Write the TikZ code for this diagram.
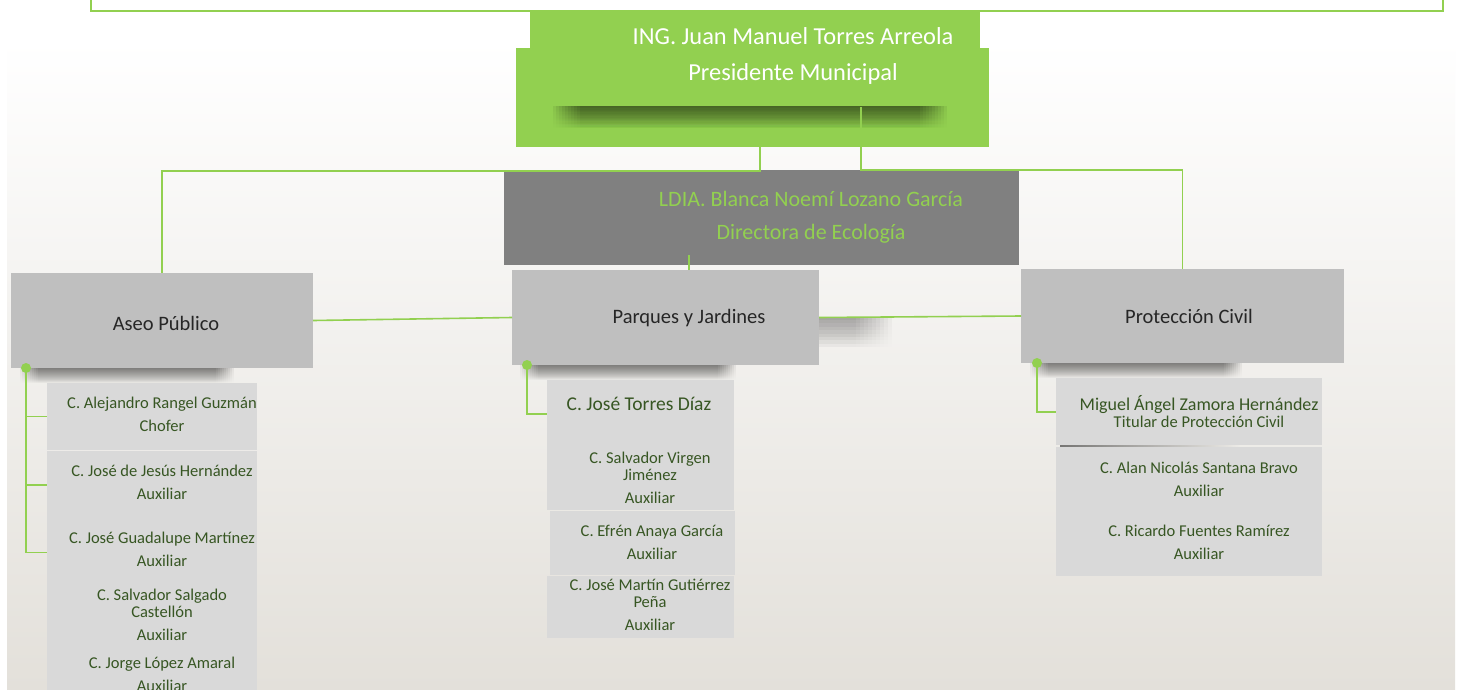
\documentclass[tikz,border=0pt]{standalone}
\usepackage{fontspec}
\setmainfont{Carlito}
\usetikzlibrary{fadings}
\definecolor{verde}{HTML}{92D050}
\definecolor{verdeosc}{HTML}{375623}
\definecolor{grisdir}{HTML}{808080}
\definecolor{gristit}{HTML}{BFBFBF}
\definecolor{grissub}{HTML}{D9D9D9}
\definecolor{fondo}{HTML}{E3E0DA}

\begin{document}
\begin{tikzpicture}[x=1pt,y=-1pt,
    caja/.style={inner sep=0pt,outer sep=0pt},
    linea/.style={draw=verde,line width=1.6pt},
    titulo/.style={text=black!85,font=\fontsize{20.5}{24}\selectfont,inner sep=0pt},
    sub/.style={text=verdeosc,font=\fontsize{16.5}{17}\selectfont,align=center,inner sep=0pt},
    sombra/.style={fill=black,opacity=.06,path fading=south}]
\useasboundingbox (0,0) rectangle (1460,689);
% fondo
\fill[white] (0,0) rectangle (1460,689);
\shade[top color=white,bottom color=fondo] (7,40) rectangle (1455,689);
\draw[verde,line width=1.6pt] (91,-3) |- (1443,11) -- (1443,-3);

% sombras
\foreach \i in {0,...,9} {
  \fill[sombra] (20+2*\i,368) rectangle (234-2*\i,383);
  \fill[sombra] (520+2*\i,365) rectangle (736-2*\i,380);
  \fill[sombra] (1030+2*\i,363) rectangle (1242-2*\i,378);
  \fill[sombra,opacity=.035] (819,318) rectangle (892-4*\i,348);
}

% cajas
\node[caja,fill=verde,minimum width=450,minimum height=38] (presTab) at (755,29) {};
\node[caja,fill=verde,minimum width=473,minimum height=99] (pres) at (752.5,97.5) {};
\foreach \i in {0,...,9}
  \fill[sombra,opacity=.065] (553+3*\i,106) rectangle (947-3*\i,128);
\node[caja,fill=grisdir,minimum width=515,minimum height=95] (dir) at (761.5,217.5) {};
\node[caja,fill=gristit,minimum width=302,minimum height=95] (aseo) at (162,320.5) {};
\node[caja,fill=gristit,minimum width=307,minimum height=95] (parq) at (665.5,317.5) {};
\node[caja,fill=gristit,minimum width=323,minimum height=94] (prot) at (1182.5,316) {};

\node[caja,fill=grissub,minimum width=210,minimum height=67] (aseoS1) at (152,416.5) {};
\node[caja,fill=grissub,minimum width=210,minimum height=249] (aseoS2) at (152,575.5) {};
\node[caja,fill=grissub,minimum width=187,minimum height=130] (parqS1) at (640.5,445) {};
\node[caja,fill=grissub,minimum width=185,minimum height=64] (parqS2) at (642.5,543) {};
\node[caja,fill=grissub,minimum width=187,minimum height=62] (parqS3) at (640.5,607) {};
\node[caja,fill=grissub,minimum width=266,minimum height=67] (protS1) at (1189,411.5) {};
\node[caja,fill=grissub,minimum width=266,minimum height=129] (protS2) at (1189,511.5) {};
\fill[black,opacity=.5,path fading=east] (1060,444.5) rectangle (1240,447);

% textos
\node[text=white,align=center,inner sep=0pt,font=\fontsize{24.4}{36}\selectfont] (presTxt) at (793,56)
  {ING. Juan Manuel Torres Arreola\\Presidente Municipal};
\node[text=verde,align=center,inner sep=0pt,font=\fontsize{22}{33}\selectfont] (dirTxt) at (811,217.5)
  {LDIA. Blanca Noemí Lozano García\\Directora de Ecología};
\node[titulo] (aseoTxt) at (166,323) {Aseo Público};
\node[titulo] (parqTxt) at (689,318) {Parques y Jardines};
\node[titulo] (protTxt) at (1189,316) {Protección Civil};

\node[sub] (a1) at (162,414.5) {C. Alejandro Rangel Guzmán\\[6pt]Chofer};
\node[sub] (a2) at (162,482) {C. José de Jesús Hernández\\[6pt]Auxiliar};
\node[sub] (a3) at (162,549.5) {C. José Guadalupe Martínez\\[6pt]Auxiliar};
\node[sub] (a4) at (162,614.5) {C. Salvador Salgado\\Castellón\\[6pt]Auxiliar};
\node[sub] (a5) at (162,674.5) {C. Jorge López Amaral\\[6pt]Auxiliar};

\node[sub,font=\fontsize{19.5}{20}\selectfont] (p1) at (639,404) {C. José Torres Díaz};
\node[sub] (p2) at (650,478) {C. Salvador Virgen\\Jiménez\\[6pt]Auxiliar};
\node[sub] (p3) at (652,542.5) {C. Efrén Anaya García\\[6pt]Auxiliar};
\node[sub] (p4) at (650,604.5) {C. José Martín Gutiérrez\\Peña\\[6pt]Auxiliar};

\node[sub] (r1) at (1199,412)
  {{\fontsize{18}{18}\selectfont Miguel Ángel Zamora Hernández}\\Titular de Protección Civil};
\node[sub] (r2) at (1199,479.5) {C. Alan Nicolás Santana Bravo\\[6pt]Auxiliar};
\node[sub] (r3) at (1199,542.5) {C. Ricardo Fuentes Ramírez\\[6pt]Auxiliar};

% conectores
\coordinate (presR) at (861,107);
\draw[linea] ([xshift=7.5]pres.south) -- ++(0,24) -| (aseo.north);
\draw[linea] (presR) -- (presR |- dir.north) -| (prot.north);
\draw[linea] ([xshift=23.5]parq.north) -- ++(0,-15);
\draw[linea] (aseo.east) -- (parq.west);
\draw[linea] (parq.east) -- (prot.west);

\coordinate (aseoP) at ([xshift=15]aseo.south west);
\coordinate (parqP) at ([xshift=15]parq.south west);
\coordinate (protP) at ([xshift=16]prot.south west);
\draw[linea] (aseoP) |- (aseoS1.west);
\draw[linea] (aseoP) |- ([yshift=-3]aseoS2.west |- a2);
\draw[linea] (aseoP) |- ([yshift=-3]aseoS2.west |- a3);
\draw[linea] (parqP) |- ([yshift=-10]parqS1.west |- p1);
\draw[linea] (protP) |- (protS1.west |- r1);
\foreach \p in {aseoP,parqP,protP}
  \fill[verde] (\p) circle (5);
\end{tikzpicture}
\end{document}
